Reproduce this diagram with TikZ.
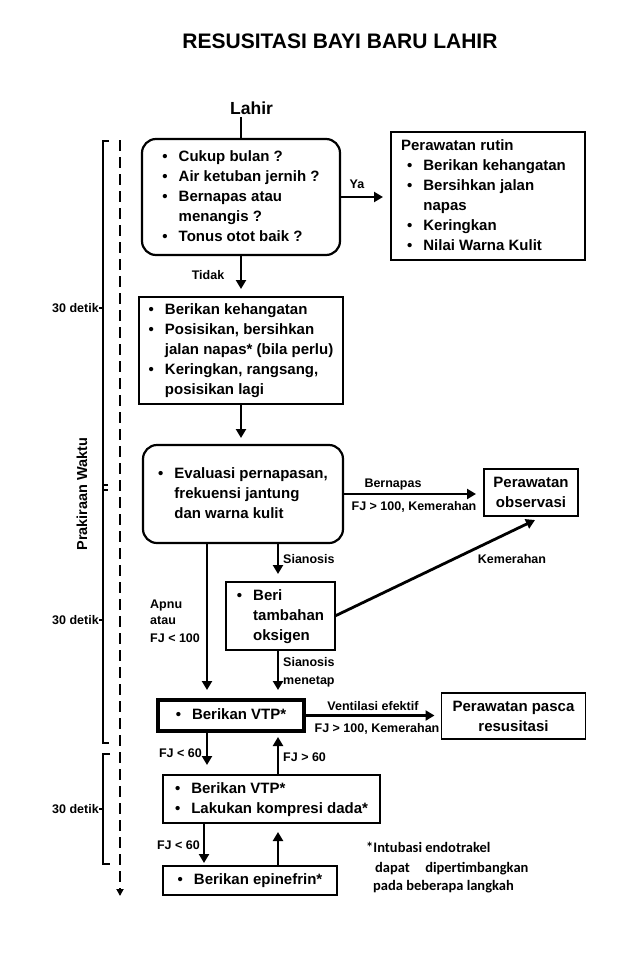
\documentclass[tikz,border=0pt]{standalone}
\usepackage{fontspec}
\setmainfont{Liberation Sans}
\newfontfamily\carlitofont{Carlito}
\usetikzlibrary{arrows.meta,calc}
\newcommand{\mybul}{\textbullet}
\begin{document}
\begin{tikzpicture}[x=1pt,y=-1pt,
 body/.style={font=\bfseries\fontsize{15}{20}\selectfont},
 lbl/.style={font=\bfseries\fontsize{12.5}{17}\selectfont, inner sep=0pt},
 rbox/.style={draw, line width=2.2pt, rounded corners=14pt, inner sep=0pt, outer sep=0pt, body},
 sbox/.style={draw, line width=1.6pt, inner sep=0pt, outer sep=0pt, body},
 tbox/.style={draw, line width=3.2pt, inner sep=0pt, outer sep=0pt, body},
 arr/.style={line width=2.8pt, -{Triangle[length=9pt,width=10pt]}, shorten >=8pt},
 brk/.style={line width=1.4pt},
 foot/.style={font=\carlitofont\bfseries\fontsize{14.5}{18}\selectfont, anchor=base west, inner sep=0pt},
]
\fill[white] (0,0) rectangle (638,975);
\useasboundingbox (0,0) rectangle (638,975);

% title
\node[font=\bfseries\fontsize{21}{25}\selectfont] (title) at (340,41) {RESUSITASI BAYI BARU LAHIR};
\node[font=\bfseries\fontsize{17.5}{20}\selectfont, anchor=base west, inner sep=0pt] (lahir) at (230,114) {Lahir};

% boxes
\node[rbox, minimum width=198pt, minimum height=116pt] (b1) at (241,197) {\begin{tabular}{@{}l@{\hspace{11pt}}l@{}}
\mybul & Cukup bulan ?\\
\mybul & Air ketuban jernih ?\\
\mybul & Bernapas atau\\
 & menangis ?\\
\mybul & Tonus otot baik ?
\end{tabular}};

\node[sbox, minimum width=194pt, minimum height=128pt] (b2) at (488,196) {\begin{tabular}{@{}l@{\hspace{11pt}}l@{\hspace{9pt}}}
\multicolumn{2}{@{}l@{\hspace{9pt}}}{Perawatan rutin}\\
\hspace{6pt}\mybul & Berikan kehangatan\\
\hspace{6pt}\mybul & Bersihkan jalan\\
 & napas\\
\hspace{6pt}\mybul & Keringkan\\
\hspace{6pt}\mybul & Nilai Warna Kulit
\end{tabular}};

\node[sbox, minimum width=204pt, minimum height=107pt] (b3) at (241,350.5) {\begin{tabular}{@{}l@{\hspace{11pt}}l@{}}
\mybul & Berikan kehangatan\\
\mybul & Posisikan, bersihkan\\
 & jalan napas* (bila perlu)\\
\mybul & Keringkan, rangsang,\\
 & posisikan lagi
\end{tabular}};

\node[rbox, minimum width=200pt, minimum height=98pt] (b4) at (243,494) {\begin{tabular}{@{}l@{\hspace{11pt}}l@{}}
\mybul & Evaluasi pernapasan,\\
 & frekuensi jantung\\
 & dan warna kulit
\end{tabular}};

\node[sbox, minimum width=94pt, minimum height=47pt, align=center] (obs) at (531,492.5) {Perawatan\\observasi};

\node[sbox, minimum width=109pt, minimum height=68pt] (b5) at (280.5,616) {\begin{tabular}{@{}l@{\hspace{11pt}}l@{}}
\mybul & Beri\\
 & tambahan\\
 & oksigen
\end{tabular}};

\node[tbox, minimum width=146pt, minimum height=31pt] (vtp) at (231,715.5) {\begin{tabular}{@{}l@{\hspace{11pt}}l@{}}
\mybul & Berikan VTP*
\end{tabular}};

\node[sbox, minimum width=144pt, minimum height=46pt, align=center] (pasca) at (513.5,716) {Perawatan pasca\\resusitasi};

\node[sbox, minimum width=217pt, minimum height=48pt] (vtp2) at (271.5,799) {\begin{tabular}{@{}l@{\hspace{11pt}}l@{}}
\mybul & Berikan VTP*\\
\mybul & Lakukan kompresi dada*
\end{tabular}};

\node[sbox, minimum width=174pt, minimum height=29pt] (epi) at (250,880.5) {\begin{tabular}{@{}l@{\hspace{11pt}}l@{}}
\mybul & Berikan epinefrin*
\end{tabular}};

% helper x positions
\coordinate (cL) at (207,0);
\coordinate (cL2) at (204,0);
\coordinate (cR) at (278,0);

% connectors
\draw[line width=2.8pt, shorten <=3pt] (b1.north |- lahir.south) -- (b1.north);
\draw[arr] (b1.east) -- (b1.east -| b2.west);
\draw[arr] (b1.south) -- (b3.north);
\draw[arr, shorten >=7pt] (b3.south) -- (b3.south |- b4.north);
\draw[arr] (b4.east) -- (b4.east -| obs.west);
\draw[arr] (b4.south -| cR) -- (b5.north -| cR);
\draw[line width=2.8pt, -{Triangle[length=9pt,width=10pt]}] (b5.east) -- ($(obs.south)+(4,4)$);
\draw[arr, shorten >=10pt] (b4.south -| cL) -- (vtp.north -| cL);
\draw[arr, shorten >=10pt] (b5.south -| cR) -- (vtp.north -| cR);
\draw[arr, shorten >=7pt] (vtp.east) -- (vtp.east -| pasca.west);
\draw[arr, shorten >=10pt] (vtp.south -| cL) -- (vtp2.north -| cL);
\draw[arr, shorten >=6pt] (vtp2.north -| cR) -- (vtp.south -| cR);
\draw[arr, shorten >=3pt] (vtp2.south -| cL2) -- (epi.north -| cL2);
\draw[arr, shorten >=9pt] (epi.north -| cR) -- (vtp2.south -| cR);

% labels
\node[lbl, anchor=base] (lya) at (357,188) {Ya};
\node[lbl, anchor=base] (ltidak) at (208,279) {Tidak};
\node[lbl, anchor=base] (lbern) at (393,487) {Bernapas};
\node[lbl, anchor=base] (lfja) at (414,510) {FJ > 100, Kemerahan};
\node[lbl, anchor=base] (lkem) at (512,563) {Kemerahan};
\node[lbl, anchor=base west] (lsia) at (283,563) {Sianosis};
\node[lbl, anchor=base west] (lap1) at (150,608) {Apnu};
\node[lbl, anchor=base west] (lap2) at (150,624.5) {atau};
\node[lbl, anchor=base west] (lap3) at (150,642) {FJ < 100};
\node[lbl, anchor=base west] (lsm1) at (283,666) {Sianosis};
\node[lbl, anchor=base west] (lsm2) at (283,684) {menetap};
\node[lbl, anchor=base] (lvent) at (373,710) {Ventilasi efektif};
\node[lbl, anchor=base] (lfjb) at (377,732) {FJ > 100, Kemerahan};
\node[lbl, anchor=base east] (lfjc) at (202,757) {FJ < 60};
\node[lbl, anchor=base west] (lfjd) at (283,761) {FJ > 60};
\node[lbl, anchor=base east] (lfje) at (200,849) {FJ < 60};

% time axis
\coordinate (dtop) at (120,140);
\coordinate (dbot) at (120,896);
\draw[line width=2.2pt, dash pattern=on 11pt off 6pt, -{Triangle[length=7pt,width=7pt]}] (dtop) -- (dbot);

\draw[brk] (109,141) -- (103,141) -- (103,743) -- (109,743);
\draw[brk] (103,485) -- (108,485) (103,490) -- (108,490);
\draw[brk] (110,754) -- (103,754) -- (103,864) -- (110,864);

\node[font=\bfseries\fontsize{14.5}{17}\selectfont, rotate=90, inner sep=0pt] (pw) at (82,494) {Prakiraan Waktu};

\node[lbl, anchor=base east] (d1) at (99,312.5) {30 detik};
\node[lbl, anchor=base east] (d2) at (99,624.5) {30 detik};
\node[lbl, anchor=base east] (d3) at (99,813.5) {30 detik};
\draw[brk] (d1.east) -- ++(4,0);
\draw[brk] (d2.east) -- ++(4,0);
\draw[brk] (d3.east) -- ++(4,0);

% footnote
\node[foot] (f1) at (366,852) {*Intubasi endotrakel};
\node[foot] (f2) at (375,872) {dapat\hspace{12pt} dipertimbangkan};
\node[foot] (f3) at (373,890) {pada beberapa langkah};
\end{tikzpicture}
\end{document}
